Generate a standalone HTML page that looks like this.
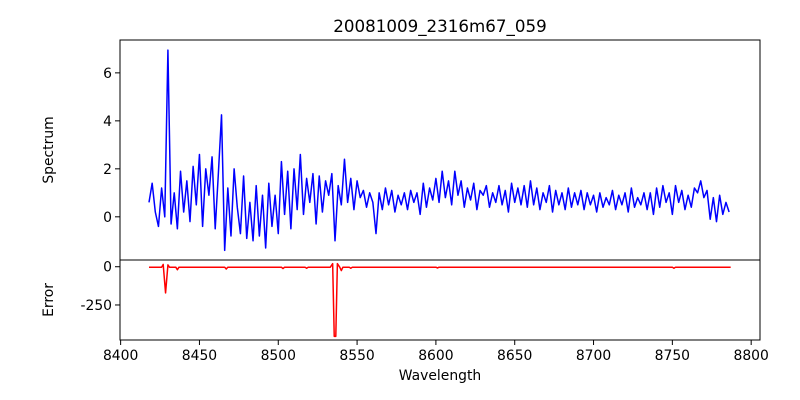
<!DOCTYPE html>
<html><head><meta charset="utf-8"><style>
html,body{margin:0;padding:0;background:#fff;}
svg{display:block;font-family:"DejaVu Sans","Liberation Sans",sans-serif;}
</style></head><body>
<svg id="c" width="800" height="400" viewBox="0 0 800 400">
<rect width="800" height="400" fill="#fff"/>
<text x="440" y="32" font-size="16.7" text-anchor="middle">20081009_2316m67_059</text>
<text transform="translate(53,150) rotate(-90)" font-size="13.9" text-anchor="middle">Spectrum</text>
<text transform="translate(53,300) rotate(-90)" font-size="13.9" text-anchor="middle">Error</text>
<text x="440" y="380" font-size="13.9" text-anchor="middle">Wavelength</text>
<g id="gtop"></g><g id="gbot"></g>
</svg>
<script>
const specStart = 8418;
const specStep = 2;
const specValues = [0.6,1.4,0.2,-0.4,1.2,0.0,6.95,-0.3,1.0,-0.5,1.9,0.2,1.5,-0.2,2.1,0.5,2.6,-0.4,2.0,0.9,2.5,-0.5,1.8,4.25,-1.4,1.2,-0.8,2.0,0.4,-0.7,1.7,-0.9,0.6,-1.0,1.3,-0.8,0.9,-1.3,1.4,-0.4,0.9,-0.7,2.3,0.1,1.9,-0.5,2.0,0.3,2.6,0.1,1.6,0.6,1.8,-0.3,1.7,0.2,1.5,0.9,1.8,-1.0,1.3,0.5,2.4,0.6,1.6,0.3,1.5,0.8,1.1,0.4,1.0,0.6,-0.7,1.0,0.3,1.2,0.5,1.1,0.2,0.9,0.5,1.0,0.3,1.1,0.6,1.0,0.1,1.4,0.4,1.2,0.7,1.6,0.6,1.9,0.8,1.5,0.5,1.9,0.9,1.5,0.4,1.2,0.7,1.4,0.3,1.1,0.9,1.3,0.4,1.0,0.6,1.3,0.5,1.1,0.2,1.4,0.6,1.2,0.5,1.3,0.4,1.5,0.5,1.2,0.3,1.0,0.6,1.3,0.2,1.1,0.5,1.0,0.3,1.2,0.4,1.0,0.5,1.1,0.3,1.0,0.5,0.9,0.2,1.0,0.4,0.8,0.5,1.1,0.3,0.9,0.5,1.0,0.2,1.2,0.4,0.8,0.5,1.0,0.3,1.0,0.1,1.2,0.4,1.3,0.6,1.0,0.1,1.3,0.6,1.1,0.3,0.9,0.4,1.2,1.0,1.5,0.8,1.1,-0.1,0.8,-0.2,0.9,0.1,0.6,0.2];
const errWl = [8418,8426,8427,8428.5,8430,8431,8435,8436,8437,8466,8467,8468,8502,8503,8504,8517,8518,8519,8533,8534.5,8535.5,8536.5,8537.5,8539,8540,8541,8545,8546,8547,8600,8601,8602,8750,8751,8752,8787];
const errVals = [-3,-3,15,-171,12,-3,-3,-20,-3,-3,-15,-3,-3,-12,-3,-3,-10,-3,-3,20,-455,-455,20,-3,-25,-3,-3,-10,-3,-3,-8,-3,-3,-10,-3,-3];
const xTicks = [8400,8450,8500,8550,8600,8650,8700,8750,8800];
const topTicks = [0,2,4,6];
const botTicks = [0,-250];

const L=120,R=760;
const X=l=>L+(l-8399.6)/406*640;
const YT=v=>40+(7.37-v)/9.17*220;
const YB=v=>260+(44-v)/523*80;
const NS='http://www.w3.org/2000/svg';
function mk(t,a,p){const e=document.createElementNS(NS,t);for(const k in a)e.setAttribute(k,a[k]);p.appendChild(e);return e;}
const gTop=document.getElementById('gtop'), gBot=document.getElementById('gbot');

let d='';
specValues.forEach((v,i)=>{d+=(i?'L':'M')+X(specStart+i*specStep).toFixed(2)+','+YT(v).toFixed(2);});
const sp=mk('path',{d:d,fill:'none',stroke:'#0000ff','stroke-width':1.5,'stroke-linejoin':'round'},gTop);



d='';
errWl.forEach((l,i)=>{d+=(i?'L':'M')+X(l).toFixed(2)+','+YB(errVals[i]).toFixed(2);});
const ep=mk('path',{d:d,fill:'none',stroke:'#ff0000','stroke-width':1.5,'stroke-linejoin':'round'},gBot);



const f1=mk('rect',{x:L,y:40,width:R-L,height:220,fill:'none',stroke:'#000','stroke-width':1},gTop);


const f2=mk('rect',{x:L,y:260,width:R-L,height:80,fill:'none',stroke:'#000','stroke-width':1},gBot);



topTicks.forEach(v=>{const y=YT(v);
 mk('line',{x1:L-5,x2:L,y1:y,y2:y,stroke:'#000'},gTop);
 const t=mk('text',{x:L-8,y:y+5,'font-size':13.9,'text-anchor':'end'},gTop);t.textContent=v;
 
 });
botTicks.forEach(v=>{const y=YB(v);
 mk('line',{x1:L-5,x2:L,y1:y,y2:y,stroke:'#000'},gBot);
 const t=mk('text',{x:L-8,y:y+5,'font-size':13.9,'text-anchor':'end'},gBot);t.textContent=v;
 
 });
xTicks.forEach(v=>{const x=X(v);
 mk('line',{x1:x,x2:x,y1:340,y2:345,stroke:'#000'},gBot);
 const t=mk('text',{x:x,y:360,'font-size':13.9,'text-anchor':'middle'},gBot);t.textContent=v;
 
 });
</script>
</body></html>
